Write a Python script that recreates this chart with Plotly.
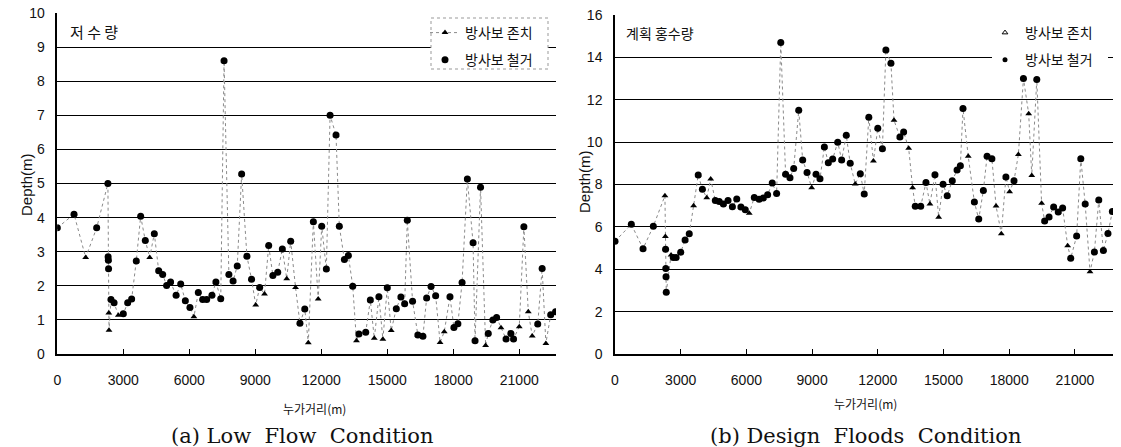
import plotly.graph_objects as go

# ---------------- data: (a) Low Flow Condition ----------------
lf_x = [0, 760, 1290, 1790, 2300, 2310, 2320, 2330, 2340, 2350, 2440, 2580, 2775, 3000, 3200, 3380,
        3590, 3790, 4000, 4200, 4410, 4610, 4790, 4970, 5150, 5400, 5610, 5820, 6030, 6210, 6410,
        6610, 6790, 7030, 7210, 7430, 7580, 7800, 7990, 8180, 8380, 8620, 8830, 9020, 9200, 9420,
        9610, 9800, 10020, 10230, 10430, 10610, 10830, 11030, 11250, 11410, 11640, 11860, 12020,
        12230, 12400, 12670, 12820, 13050, 13230, 13430, 13600, 13710, 14020, 14230, 14410, 14620,
        14800, 15000, 15180, 15410, 15620, 15790, 15910, 16150, 16390, 16620, 16790, 16990, 17200,
        17400, 17590, 17850, 18030, 18210, 18400, 18640, 18900, 18990, 19240, 19470, 19590, 19800,
        19970, 20170, 20400, 20620, 20740, 21000, 21210, 21410, 21590, 21840, 22040, 22210, 22430,
        22650]
lf_keep = [3.7, 4.1, 2.83, 3.7, 5.0, 2.85, 2.75, 2.5, 1.2, 0.7, 1.6, 1.5, 1.14, 1.18, 1.5, 1.61,
           2.73, 4.04, 3.33, 2.83, 3.53, 2.44, 2.33, 2.01, 2.11, 1.72, 2.05, 1.56, 1.36, 1.09, 1.8,
           1.6, 1.6, 1.72, 2.11, 1.62, 8.6, 2.33, 2.14, 2.58, 5.28, 2.87, 2.19, 1.44, 1.95, 1.76,
           3.18, 2.3, 2.4, 3.08, 2.21, 3.31, 1.95, 0.9, 1.32, 0.33, 3.88, 1.61, 3.75,
           2.49, 7.0, 6.42, 3.75, 2.77, 2.89, 1.99, 0.39, 0.59, 0.64, 1.58, 0.46, 1.68,
           0.43, 1.94, 0.69, 1.33, 1.67, 1.47, 3.92, 1.55, 0.56, 0.52, 1.64, 1.98, 1.71,
           0.34, 0.65, 1.68, 0.78, 0.89, 2.1, 5.13, 3.26, 0.39, 4.89, 0.25, 0.6, 1.0,
           1.07, 0.77, 0.44, 0.6, 0.44, 0.8, 3.73, 1.24, 0.53, 0.88, 2.51, 0.31, 1.15,
           1.24]
# stations where only the "weir kept" marker is visible
lf_keep_only = [1290, 2340, 2350, 2775, 4200, 6210, 9020, 9420, 10430, 10830, 11410, 11860, 13600,
                14410, 14800, 15180, 17400, 17590, 19470, 20170, 21000, 21410, 21590, 22210]
lf_removed = [None if x in lf_keep_only else y for x, y in zip(lf_x, lf_keep)]

# ---------------- data: (b) Design Floods Condition ----------------
df_x = [0, 745, 1280, 1750, 2280, 2300, 2310, 2320, 2330, 2340, 2560, 2660, 2790, 3000, 3200, 3390,
        3590, 3800, 3990, 4190, 4370, 4580, 4760, 4950, 5160, 5360, 5560, 5750, 5950, 6130, 6360,
        6580, 6770, 6970, 7180, 7380, 7570, 7790, 7990, 8160, 8390, 8570, 8770, 8980, 9180, 9360,
        9560, 9740, 9940, 10170, 10350, 10560, 10740, 10970, 11200, 11380, 11590, 11800, 12000,
        12210, 12370, 12600, 12740, 13010, 13180, 13410, 13590, 13710, 13960, 14200, 14380, 14610,
        14780, 14980, 15170, 15400, 15620, 15770, 15890, 16130, 16410, 16610, 16820, 16990, 17210,
        17400, 17640, 17850, 18020, 18220, 18420, 18650, 18890, 19030, 19260, 19480, 19620, 19820,
        20030, 20240, 20440, 20670, 20810, 21080, 21270, 21470, 21690, 21890, 22090, 22300, 22510,
        22710]
df_keep = [5.32, 6.12, 4.97, 6.03, 7.47, 5.54, 4.94, 4.04, 3.65, 2.91, 4.67, 4.55, 4.55, 4.8, 5.38, 5.68,
           7.0, 8.45, 7.77, 7.38, 8.26, 7.24, 7.2, 7.08, 7.25, 6.95, 7.31, 6.94, 6.81, 6.64, 7.39,
           7.3, 7.36, 7.52, 8.07, 7.58, 14.7, 8.48, 8.32, 8.76, 11.5, 9.16, 8.57, 7.85, 8.48, 8.27,
           9.77, 9.03, 9.2, 10.0, 9.16, 10.32, 9.0, 8.02, 8.51, 7.55, 11.17, 9.11, 10.65,
           9.69, 14.35, 13.72, 11.03, 10.24, 10.48, 9.71, 7.85, 6.97, 6.97, 8.09, 7.08, 8.46,
           6.45, 8.01, 7.47, 8.18, 8.68, 8.89, 11.59, 9.33, 7.17, 6.37, 7.72, 9.33, 9.22,
           6.98, 5.68, 8.35, 7.66, 8.18, 9.42, 13.0, 11.34, 8.43, 12.95, 7.11, 6.28, 6.47,
           6.94, 6.7, 6.89, 5.11, 4.52, 5.57, 9.22, 7.08, 3.88, 4.81, 7.27, 4.89, 5.69,
           6.73]
df_keep_only = [2280, 2300, 2560, 3590, 4190, 4370, 6130, 8980, 10970, 11800, 12740, 13410, 13590,
                14380, 14780, 16130, 17400, 17640, 18020, 18420, 18890, 19030, 19480, 20670, 21690]
df_removed = [None if x in df_keep_only else y for x, y in zip(df_x, df_keep)]

x_ticks = [0, 3000, 6000, 9000, 12000, 15000, 18000, 21000]
x_tick_text = ["0", "3000", "6000", "9000", "12000", "15000", "18000", "21000"]
series_names = ["방사보 존치", "방사보 철거"]
panel_labels = ["저 수 량", "계획 홍수량"]
captions = ["(a) Low  Flow  Condition", "(b) Design  Floods  Condition"]

W, H = 1121, 447
KR = "Noto Sans CJK KR, Noto Sans, sans-serif"
NUM = "Liberation Sans, Arial, sans-serif"
SERIF = "DejaVu Serif, Liberation Serif, serif"

def px(x):
    return x / W

def py(y):
    return 1 - y / H

line_style = dict(color="#8a8a8a", width=1, dash="dot")
tri = dict(symbol="triangle-up", size=6, color="black")
dot = dict(symbol="circle", size=7, color="black")

fig = go.Figure()
fig.add_trace(go.Scatter(x=lf_x, y=lf_keep, mode="lines+markers", name=series_names[0],
                         line=line_style, marker=tri, legend="legend", legendgroup="a1"))
fig.add_trace(go.Scatter(x=lf_x, y=lf_removed, mode="markers", name=series_names[1],
                         marker=dot, legend="legend", legendgroup="a2"))
fig.add_trace(go.Scatter(x=df_x, y=df_keep, mode="lines+markers", name=series_names[0],
                         line=line_style, marker=tri, xaxis="x2", yaxis="y2", showlegend=False))
fig.add_trace(go.Scatter(x=df_x, y=df_removed, mode="markers", name=series_names[1],
                         marker=dot, xaxis="x2", yaxis="y2", showlegend=False))
# legend entries for panel (b) (markers only)
fig.add_trace(go.Scatter(x=[None], y=[None], mode="markers", name=series_names[0],
                         marker=dict(symbol="triangle-up-open", size=5, color="black"),
                         xaxis="x2", yaxis="y2", legend="legend2", legendgroup="b1"))
fig.add_trace(go.Scatter(x=[None], y=[None], mode="markers", name=series_names[1],
                         marker=dict(symbol="circle", size=5, color="black"),
                         xaxis="x2", yaxis="y2", legend="legend2", legendgroup="b2"))

xcommon = dict(tickvals=x_ticks, ticktext=x_tick_text, ticks="inside", ticklen=5, tickcolor="black",
               showline=True, linecolor="black", linewidth=1.5, showgrid=False, zeroline=False,
               tickfont=dict(family=NUM, size=14, color="#111"), ticklabelstandoff=12,
               automargin=False)
ycommon = dict(showgrid=True, gridcolor="black", gridwidth=1.3, showline=True, linecolor="black",
               linewidth=1.5, zeroline=False, ticks="", tickfont=dict(family=NUM, size=14, color="#111"),
               ticklabelstandoff=8, automargin=False)

legend_common = dict(font=dict(family=KR, size=14, color="#111"), bgcolor="rgba(0,0,0,0)",
                     borderwidth=0, tracegroupgap=6, itemsizing="trace",
                     xanchor="left", yanchor="top")

fig.update_layout(
    width=W, height=H,
    margin=dict(l=0, r=0, t=0, b=0),
    paper_bgcolor="white", plot_bgcolor="white",
    xaxis=dict(domain=[px(57.3), px(556)], range=[0, 22670], anchor="y", **xcommon),
    yaxis=dict(domain=[py(354), py(13)], range=[0, 10], dtick=1, anchor="x", **ycommon),
    xaxis2=dict(domain=[px(615), px(1113)], range=[0, 22740], anchor="y2", **xcommon),
    yaxis2=dict(domain=[py(354), py(15)], range=[0, 16], dtick=2, anchor="x2", **ycommon),
    legend=dict(x=px(425), y=py(17), **legend_common),
    legend2=dict(x=px(985), y=py(17), **legend_common),
    showlegend=True,
)

ann = []
def add_text(text, x, y, size, family, angle=0):
    ann.append(dict(text=text, x=px(x), y=py(y), xref="paper", yref="paper", showarrow=False,
                    xanchor="center", yanchor="middle", textangle=angle,
                    font=dict(family=family, size=size, color="#111")))

add_text(panel_labels[0], 94, 32, 15, KR)
add_text(panel_labels[1], 660, 33, 14, KR)
add_text("Depth(m)", 26, 185, 15, NUM, -90)
add_text("Depth(m)", 585, 182, 15, NUM, -90)
add_text("누가거리(m)", 314, 408, 12, KR)
add_text("누가거리(m)", 866, 403, 12, KR)
add_text(captions[0], 302, 436, 21, SERIF)
add_text(captions[1], 866, 436, 21, SERIF)
fig.update_layout(annotations=ann)

# white boxes behind the legends (left one with a faint dotted frame)
fig.add_shape(type="rect", xref="paper", yref="paper", x0=px(431), x1=px(548), y0=py(69), y1=py(18),
              fillcolor="white", line=dict(color="#999", width=1, dash="dot"), layer="above")
fig.add_shape(type="rect", xref="paper", yref="paper", x0=px(992), x1=px(1108), y0=py(68), y1=py(18),
              fillcolor="white", line=dict(width=0), layer="above")

fig.write_html("out.html", config={"displayModeBar": False},
               post_script="document.body.style.margin='0';")
